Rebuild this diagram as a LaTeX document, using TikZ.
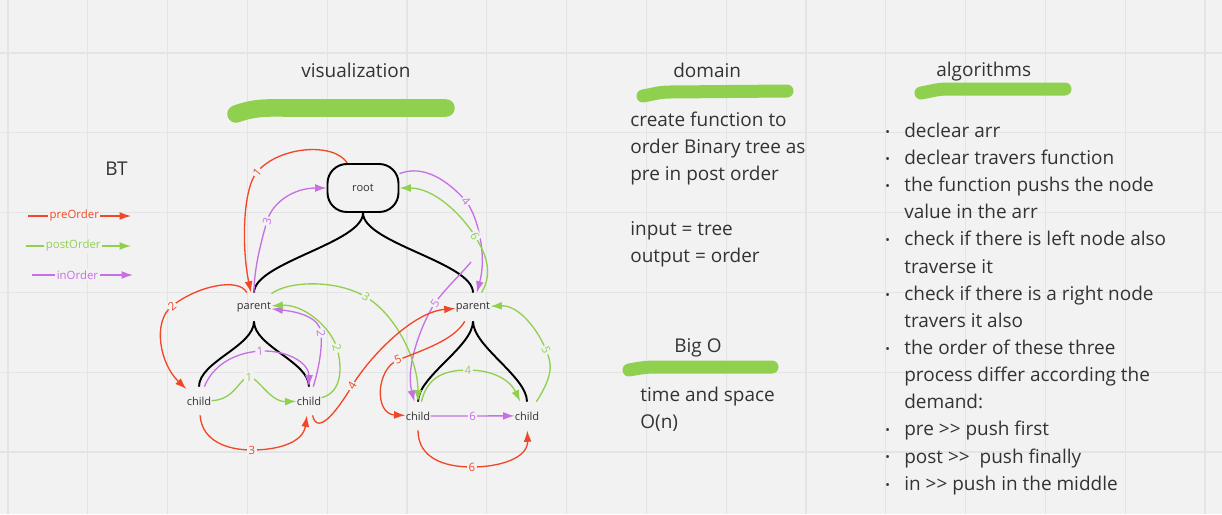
\documentclass[tikz,border=0pt]{standalone}
\usepackage{fontspec}
\setmainfont{Open Sans}
\usetikzlibrary{arrows.meta}

\definecolor{bg}{RGB}{242,242,242}
\definecolor{gridgray}{RGB}{228,228,228}
\definecolor{ink}{RGB}{51,51,51}
\definecolor{preRed}{RGB}{242,71,38}
\definecolor{postGreen}{RGB}{143,209,79}
\definecolor{inViolet}{RGB}{198,112,228}

\newcommand\dgt{>\kern0pt>}
\newcommand\itm{\makebox[10.8pt][l]{\raisebox{0.6pt}{\fontsize{7}{7}\selectfont\textbullet}}}

\begin{document}
\begin{tikzpicture}[x=0.02cm, y=-0.02cm]
    \tikzset{
      txt/.style={anchor=base west, inner sep=0pt, text=ink, font=\fontsize{10.8}{15.45}\selectfont},
      treenode/.style={inner sep=0pt, minimum height=0.56cm, text=ink, font=\fontsize{6.3}{7}\selectfont},
      rootbox/.style={treenode, draw, line width=1.1pt, rounded corners=11pt, minimum width=1.42cm, minimum height=0.96cm},
      treeline/.style={line width=1.1pt},
      gridline/.style={draw=gridgray, line width=0.6pt},
      highlight/.style={draw=postGreen, line width=7.4pt, line cap=round},
      arr/.style={line width=0.75pt, -{Latex[length=6.5pt,width=4.5pt]}},
      preArr/.style={arr, color=preRed},
      postArr/.style={arr, color=postGreen},
      inArr/.style={arr, color=inViolet},
      lbl/.style={fill=bg, inner sep=0.8pt, font=\fontsize{6.5}{7}\selectfont, sloped}
    }

    \fill[bg] (0,0) rectangle (1222,514);
    \useasboundingbox (0,0) rectangle (1222,514);
    \foreach \k in {0,...,15} \draw[gridline] ({8+79.8*\k},0) -- ({8+79.8*\k},514);
    \foreach \k in {0,...,5} \draw[gridline] (0,{53+79.8*\k}) -- (1222,{53+79.8*\k});

    % headings
    \draw[highlight, line width=10pt] (236,114) to[out=20,in=180] (290,108) -- (446,108);
    \draw[highlight] (643,96) to[out=10,in=180] (670,92) -- (787,91);
    \draw[highlight] (921,93) to[out=10,in=180] (948,89) -- (1065,89);
    \draw[highlight] (629,370) to[out=10,in=180] (656,367) -- (772,367);
    \node[txt] (vis) at (301,77.3) {visualization};
    \node[txt] (dom) at (673,77.3) {domain};
    \node[txt] (algo) at (936,76.7) {algorithms};
    \node[txt] (bigo) at (674,352.3) {Big O};
    \node[txt] (bt) at (105,175.7) {BT};

    \node[txt] (domtext) at (630,126.7) {\begin{tabular}[t]{@{}l@{}}
      create function to\\ order Binary tree as\\ pre in post order\\ \\
      input = tree\\ output = order\end{tabular}};
    \node[txt] (bigotext) at (640,401.7) {\begin{tabular}[t]{@{}l@{}}
      time and space\\ O(n)\end{tabular}};
    \node[txt] (algotext) at (885,137.3) {\begin{tabular}[t]{@{}l@{}}
      \itm declear arr\\
      \itm declear travers function\\
      \itm the function pushs the node\\ \hspace*{10.8pt}value in the arr\\
      \itm check if there is left node also\\ \hspace*{10.8pt}traverse it\\
      \itm check if there is a right node\\ \hspace*{10.8pt}travers it also\\
      \itm the order of these three\\ \hspace*{10.8pt}process differ according the\\ \hspace*{10.8pt}demand:\\
      \itm pre \dgt{} push first\\
      \itm post \dgt\ \ push finally\\
      \itm in \dgt{} push in the middle\end{tabular}};

    % legend
    \foreach \lname/\ly/\lx/\lend/\lsty in {preOrder/216/28/131/preArr, postOrder/246/26/131/postArr, inOrder/275/32/133/inArr} {
      \coordinate (\lname-a) at (\lx,\ly);
      \coordinate (\lname-b) at (\lend,\ly);
      \draw[style=\lsty] (\lname-a) -- node[lbl,pos=0.45] {\lname} (\lname-b);
    }

    % tree
    \draw (363,188) node (root) [rootbox] {root};
    \draw (254,307) node (lp) [treenode] {parent};
    \draw (473,307) node (rp) [treenode] {parent};
    \draw (199,401) node (lc1) [treenode] {child};
    \draw (309,401) node (lc2) [treenode] {child};
    \draw (418,416) node (rc1) [treenode] {child};
    \draw (527,416) node (rc2) [treenode] {child};

    \draw[treeline] (root.south) .. controls +(0,30) and +(0,-30) .. (lp.north);
    \draw[treeline] (root.south) .. controls +(0,30) and +(0,-30) .. (rp.north);
    \draw[treeline] (lp.south) .. controls +(0,25) and +(0,-25) .. (lc1.north);
    \draw[treeline] (lp.south) .. controls +(0,25) and +(0,-25) .. (lc2.north);
    \draw[treeline] (rp.south) .. controls +(0,25) and +(0,-25) .. (rc1.north);
    \draw[treeline] (rp.south) .. controls +(0,25) and +(0,-25) .. (rc2.north);

    % inOrder
    \coordinate (inStart) at (471,262);
    \draw[inArr] ([shift={(13,-14)}]lc1) .. controls (212,367) and (232,353) .. (260,351) node[lbl,pos=1] {1}
      .. controls (288,350) and (309,363) .. ([shift={(0,-16)}]lc2);
    \draw[inArr] ([shift={(8,-28)}]lc2) .. controls (321,361) and (322,343) .. (321,333) node[lbl,pos=1] {2}
      .. controls (320,318) and (300,312) .. ([shift={(27,7)}]lp);
    \draw[inArr] (lp.north) .. controls (254,267) and (262,239) .. (267,221) node[lbl,pos=1] {3}
      .. controls (273,201) and (295,188) .. (root.west);
    \draw[inArr] ([shift={(39,-24)}]root) .. controls (424,164) and (448,181) .. (466,201) node[lbl,pos=1] {4}
      .. controls (478,217) and (487,255) .. ([shift={(14,-17)}]rp);
    \draw[inArr] (inStart) .. controls (461,274) and (445,289) .. (435,303) node[lbl,pos=1] {5}
      .. controls (423,321) and (405,365) .. ([shift={(-13,-16)}]rc1);
    \draw[inArr] ([shift={(19,-1)}]rc1) -- node[lbl] {6} ([shift={(-19,-1)}]rc2);

    % postOrder
    \draw[postArr] ([shift={(20,0)}]lc1) .. controls (235,400) and (240,377) .. (249,377) node[lbl,pos=1] {1}
      .. controls (258,377) and (270,402) .. ([shift={(-19,1)}]lc2);
    \draw[postArr] ([shift={(19,-9)}]lc2) .. controls (343,392) and (342,366) .. (337,348) node[lbl,pos=1] {2}
      .. controls (330,326) and (303,304) .. ([shift={(24,-3)}]lp);
    \draw[postArr] ([shift={(24,-14)}]lp) .. controls (288,281) and (336,279) .. (366,297) node[lbl,pos=1] {3}
      .. controls (396,315) and (418,360) .. ([shift={(0,-16)}]rc1);
    \draw[postArr] ([shift={(9,-18)}]rc1) .. controls (427,378) and (443,370) .. (468,370) node[lbl,pos=1] {4}
      .. controls (493,370) and (510,380) .. ([shift={(-17,-16)}]rc2);
    \draw[postArr] ([shift={(28,-23)}]rc2) .. controls (555,373) and (551,362) .. (546,350) node[lbl,pos=1] {5}
      .. controls (538,330) and (519,305) .. ([shift={(24,0)}]rp);
    \draw[postArr] ([shift={(27,-22)}]rp) .. controls (495,270) and (483,250) .. (475,236) node[lbl,pos=1] {6}
      .. controls (461,214) and (434,188) .. (root.east);

    % preOrder
    \draw[preArr] ([shift={(-29,-26)}]root) .. controls (334,142) and (279,146) .. (257,172) node[lbl,pos=1] {1}
      .. controls (242,190) and (242,250) .. ([shift={(-9,-22)}]lp);
    \draw[preArr] ([shift={(-15,-15)}]lp) .. controls (239,277) and (197,286) .. (172,306) node[lbl,pos=1] {2}
      .. controls (152,322) and (160,364) .. ([shift={(-19,-15)}]lc1);
    \draw[preArr] ([shift={(3,15)}]lc1) .. controls (202,441) and (227,450) .. (252,450) node[lbl,pos=1] {3}
      .. controls (277,450) and (303,443) .. ([shift={(-6,17)}]lc2);
    \draw[preArr] ([shift={(9,17)}]lc2) .. controls (318,438) and (340,406) .. (352,386) node[lbl,pos=1] {4}
      .. controls (370,356) and (413,312) .. ([shift={(-25,0)}]rp);
    \draw[preArr] ([shift={(-19,15)}]rp) .. controls (454,340) and (423,350) .. (398,360) node[lbl,pos=1] {5}
      .. controls (376,369) and (374,414) .. ([shift={(-19,0)}]rc1);
    \draw[preArr] ([shift={(0,14)}]rc1) .. controls (418,458) and (444,467) .. (472,467) node[lbl,pos=1] {6}
      .. controls (500,467) and (528,458) .. ([shift={(1,14)}]rc2);
\end{tikzpicture}
\end{document}
